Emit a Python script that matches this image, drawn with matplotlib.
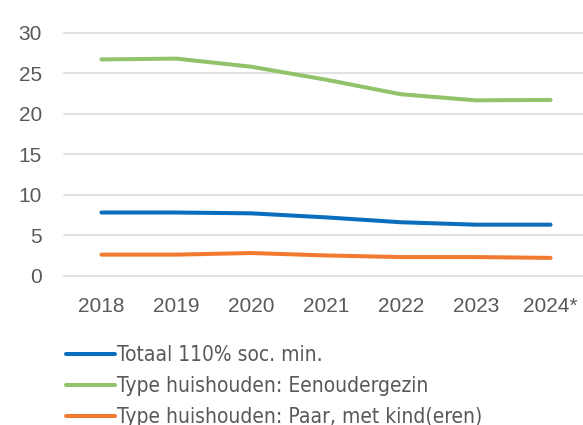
import os
import matplotlib
matplotlib.use("Agg")
import matplotlib.pyplot as plt
from matplotlib import font_manager

# data
years = ["2018", "2019", "2020", "2021", "2022", "2023", "2024*"]
totaal = [7.8, 7.8, 7.7, 7.2, 6.6, 6.3, 6.3]
eenouder = [26.7, 26.8, 25.8, 24.2, 22.4, 21.65, 21.7]
paar_kind = [2.6, 2.6, 2.8, 2.5, 2.3, 2.3, 2.2]

labels = ["Totaal 110% soc. min.",
          "Type huishouden: Eenoudergezin",
          "Type huishouden: Paar, met kind(eren)"]
colors = ["#0A6EBD", "#92C26A", "#F27A30"]

grey = "#595959"

# a narrow regular font for the legend, if one is around
files = {os.path.basename(f.fname): f.fname for f in font_manager.fontManager.ttflist}
leg_file = None
for want in ["LiberationSansNarrow-Regular.ttf", "DejaVuSansCondensed.ttf"]:
    if want in files:
        leg_file = files[want]
        break

fig = plt.figure(figsize=(5.83, 4.25), dpi=100)
ax = fig.add_axes([64 / 583, (425 - 275.7) / 425, 524 / 583, 243 / 425])

x = range(len(years))
for vals, lab, col in zip([totaal, eenouder, paar_kind], labels, colors):
    ax.plot(x, vals, color=col, lw=2.9, solid_capstyle="round",
            solid_joinstyle="round", label=lab, zorder=3)

ax.set_xlim(-0.5, len(years) - 0.5)
ax.set_ylim(0, 30)
ax.set_yticks([0, 5, 10, 15, 20, 25, 30])
ax.set_xticks(list(x))
ax.set_xticklabels(years)

ax.grid(axis="y", color="#D9D9D9", lw=1.1)
for gl in ax.get_ygridlines():
    gl.set_clip_on(False)
for s in ax.spines.values():
    s.set_visible(False)
ax.tick_params(length=0, labelsize=15, labelcolor=grey)
ax.tick_params(axis="y", pad=16)
ax.tick_params(axis="x", pad=15)
for t in ax.get_xticklabels() + ax.get_yticklabels():
    t.set_family("Liberation Sans")

if leg_file:
    leg_font = font_manager.FontProperties(fname=leg_file, size=15)
else:
    leg_font = font_manager.FontProperties(family="Roboto", size=14)
fig.legend(loc="upper left", bbox_to_anchor=(66 / 583, 1 - 345 / 425),
           frameon=False, handlelength=2.35, handletextpad=0.12,
           labelspacing=0.53, borderpad=0, borderaxespad=0,
           prop=leg_font, labelcolor=grey)

fig.savefig("out.png", dpi=100)
